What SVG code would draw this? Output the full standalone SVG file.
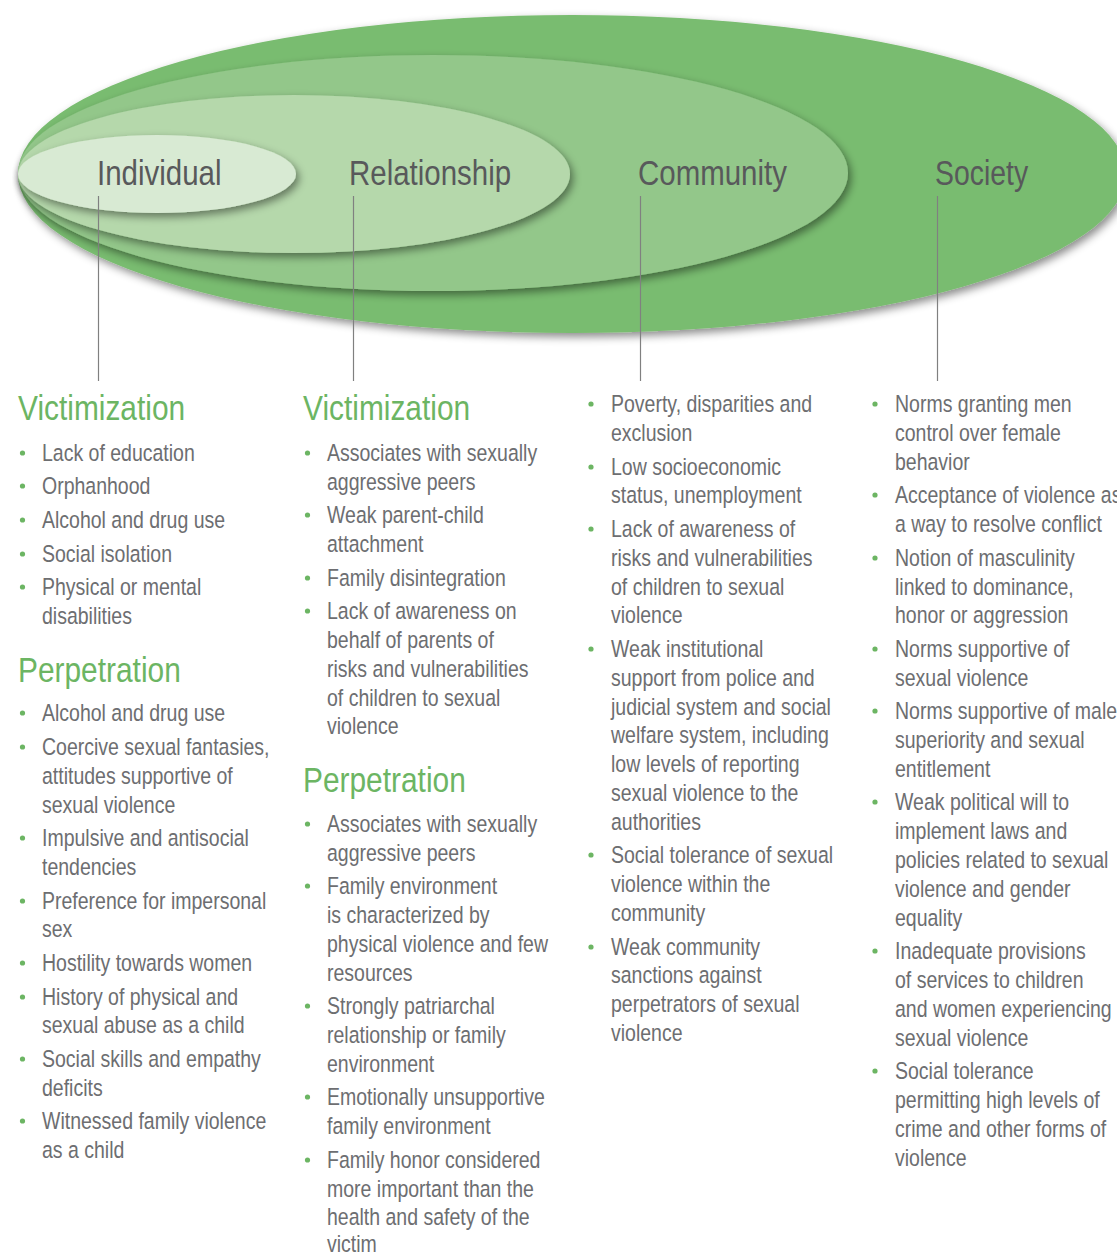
<svg xmlns="http://www.w3.org/2000/svg" width="1117" height="1255" viewBox="0 0 1117 1255">
<style>
.lbl{font-family:"Liberation Sans",Arial,sans-serif;font-size:35.5px;fill:#58595b}
.hd{font-family:"Liberation Sans",Arial,sans-serif;font-size:36px;fill:#6cb563}
.tx{font-family:"Liberation Sans",Arial,sans-serif;font-size:23.5px;fill:#6d6e71}
.bl{fill:#6cb563}
.ln{stroke:#808080;stroke-width:1.2;fill:none}
</style>
<defs>
<filter id="sh" x="-10%" y="-30%" width="120%" height="160%">
<feDropShadow dx="3" dy="4" stdDeviation="4" flood-color="#000" flood-opacity="0.45"/>
</filter>
</defs>
<rect width="1117" height="1255" fill="#fff"/>
<g id="society"><ellipse cx="572" cy="174" rx="554" ry="159" fill="#79bc6f" filter="url(#sh)"/></g>
<g id="community"><ellipse cx="433" cy="173" rx="415" ry="118" fill="#93c78a" filter="url(#sh)"/></g>
<g id="relationship"><ellipse cx="294" cy="174" rx="276" ry="79" fill="#b5d8ab" filter="url(#sh)"/></g>
<g id="individual"><ellipse cx="157" cy="174" rx="139" ry="39" fill="#d8ead3" filter="url(#sh)"/></g>
<g id="labels">
<g transform="translate(97 0) scale(0.83 1)"><text class="lbl" x="0" y="185">Individual</text></g>
<g transform="translate(349 0) scale(0.83 1)"><text class="lbl" x="0" y="185">Relationship</text></g>
<g transform="translate(638 0) scale(0.83 1)"><text class="lbl" x="0" y="185">Community</text></g>
<g transform="translate(935 0) scale(0.8 1)"><text class="lbl" x="0" y="185">Society</text></g>
</g>
<g id="connectors">
<line class="ln" x1="98.5" y1="196" x2="98.5" y2="381"/>
<line class="ln" x1="353.5" y1="196" x2="353.5" y2="381"/>
<line class="ln" x1="640.5" y1="196" x2="640.5" y2="381"/>
<line class="ln" x1="937.5" y1="196" x2="937.5" y2="381"/>
</g>
<g id="col-individual">
<g transform="translate(18 0) scale(0.83 1)">
<text class="hd" x="0" y="420">Victimization</text>
<text class="hd" x="0" y="682">Perpetration</text>
</g>
<g class="bl"><circle cx="22.5" cy="453" r="2.6"/><circle cx="22.5" cy="486" r="2.6"/><circle cx="22.5" cy="520" r="2.6"/><circle cx="22.5" cy="554" r="2.6"/><circle cx="22.5" cy="587" r="2.6"/>
<circle cx="22.5" cy="713" r="2.6"/><circle cx="22.5" cy="747" r="2.6"/><circle cx="22.5" cy="838" r="2.6"/><circle cx="22.5" cy="901" r="2.6"/><circle cx="22.5" cy="963" r="2.6"/><circle cx="22.5" cy="997" r="2.6"/><circle cx="22.5" cy="1059" r="2.6"/><circle cx="22.5" cy="1121" r="2.6"/></g>
<g transform="translate(42 0) scale(0.83 1)">
<text class="tx" x="0" y="461">Lack of education</text>
<text class="tx" x="0" y="494">Orphanhood</text>
<text class="tx" x="0" y="528">Alcohol and drug use</text>
<text class="tx" x="0" y="562">Social isolation</text>
<text class="tx" x="0" y="595">Physical or mental</text>
<text class="tx" x="0" y="624">disabilities</text>
<text class="tx" x="0" y="721">Alcohol and drug use</text>
<text class="tx" x="0" y="755">Coercive sexual fantasies,</text>
<text class="tx" x="0" y="784">attitudes supportive of</text>
<text class="tx" x="0" y="813">sexual violence</text>
<text class="tx" x="0" y="846">Impulsive and antisocial</text>
<text class="tx" x="0" y="875">tendencies</text>
<text class="tx" x="0" y="909">Preference for impersonal</text>
<text class="tx" x="0" y="937">sex</text>
<text class="tx" x="0" y="971">Hostility towards women</text>
<text class="tx" x="0" y="1005">History of physical and</text>
<text class="tx" x="0" y="1033">sexual abuse as a child</text>
<text class="tx" x="0" y="1067">Social skills and empathy</text>
<text class="tx" x="0" y="1096">deficits</text>
<text class="tx" x="0" y="1129">Witnessed family violence</text>
<text class="tx" x="0" y="1158">as a child</text>
</g>
</g>
<g id="col-relationship">
<g transform="translate(303 0) scale(0.83 1)">
<text class="hd" x="0" y="420">Victimization</text>
<text class="hd" x="0" y="792">Perpetration</text>
</g>
<g class="bl"><circle cx="307.5" cy="453" r="2.6"/><circle cx="307.5" cy="515" r="2.6"/><circle cx="307.5" cy="578" r="2.6"/><circle cx="307.5" cy="611" r="2.6"/>
<circle cx="307.5" cy="824" r="2.6"/><circle cx="307.5" cy="886" r="2.6"/><circle cx="307.5" cy="1006" r="2.6"/><circle cx="307.5" cy="1097" r="2.6"/><circle cx="307.5" cy="1160" r="2.6"/></g>
<g transform="translate(327 0) scale(0.83 1)">
<text class="tx" x="0" y="461">Associates with sexually</text>
<text class="tx" x="0" y="490">aggressive peers</text>
<text class="tx" x="0" y="523">Weak parent-child</text>
<text class="tx" x="0" y="552">attachment</text>
<text class="tx" x="0" y="586">Family disintegration</text>
<text class="tx" x="0" y="619">Lack of awareness on</text>
<text class="tx" x="0" y="648">behalf of parents of</text>
<text class="tx" x="0" y="677">risks and vulnerabilities</text>
<text class="tx" x="0" y="706">of children to sexual</text>
<text class="tx" x="0" y="734">violence</text>
<text class="tx" x="0" y="832">Associates with sexually</text>
<text class="tx" x="0" y="861">aggressive peers</text>
<text class="tx" x="0" y="894">Family environment</text>
<text class="tx" x="0" y="923">is characterized by</text>
<text class="tx" x="0" y="952">physical violence and few</text>
<text class="tx" x="0" y="981">resources</text>
<text class="tx" x="0" y="1014">Strongly patriarchal</text>
<text class="tx" x="0" y="1043">relationship or family</text>
<text class="tx" x="0" y="1072">environment</text>
<text class="tx" x="0" y="1105">Emotionally unsupportive</text>
<text class="tx" x="0" y="1134">family environment</text>
<text class="tx" x="0" y="1168">Family honor considered</text>
<text class="tx" x="0" y="1197">more important than the</text>
<text class="tx" x="0" y="1225">health and safety of the</text>
<text class="tx" x="0" y="1252">victim</text>
</g>
</g>
<g id="col-community">
<g class="bl"><circle cx="591" cy="404" r="2.6"/><circle cx="591" cy="467" r="2.6"/><circle cx="591" cy="529" r="2.6"/><circle cx="591" cy="649" r="2.6"/><circle cx="591" cy="855" r="2.6"/><circle cx="591" cy="947" r="2.6"/></g>
<g transform="translate(611 0) scale(0.83 1)">
<text class="tx" x="0" y="412">Poverty, disparities and</text>
<text class="tx" x="0" y="441">exclusion</text>
<text class="tx" x="0" y="475">Low socioeconomic</text>
<text class="tx" x="0" y="503">status, unemployment</text>
<text class="tx" x="0" y="537">Lack of awareness of</text>
<text class="tx" x="0" y="566">risks and vulnerabilities</text>
<text class="tx" x="0" y="595">of children to sexual</text>
<text class="tx" x="0" y="623">violence</text>
<text class="tx" x="0" y="657">Weak institutional</text>
<text class="tx" x="0" y="686">support from police and</text>
<text class="tx" x="0" y="715">judicial system and social</text>
<text class="tx" x="0" y="743">welfare system, including</text>
<text class="tx" x="0" y="772">low levels of reporting</text>
<text class="tx" x="0" y="801">sexual violence to the</text>
<text class="tx" x="0" y="830">authorities</text>
<text class="tx" x="0" y="863">Social tolerance of sexual</text>
<text class="tx" x="0" y="892">violence within the</text>
<text class="tx" x="0" y="921">community</text>
<text class="tx" x="0" y="955">Weak community</text>
<text class="tx" x="0" y="983">sanctions against</text>
<text class="tx" x="0" y="1012">perpetrators of sexual</text>
<text class="tx" x="0" y="1041">violence</text>
</g>
</g>
<g id="col-society">
<g class="bl"><circle cx="875" cy="404" r="2.6"/><circle cx="875" cy="495" r="2.6"/><circle cx="875" cy="558" r="2.6"/><circle cx="875" cy="649" r="2.6"/><circle cx="875" cy="711" r="2.6"/><circle cx="875" cy="802" r="2.6"/><circle cx="875" cy="951" r="2.6"/><circle cx="875" cy="1071" r="2.6"/></g>
<g transform="translate(895 0) scale(0.83 1)">
<text class="tx" x="0" y="412">Norms granting men</text>
<text class="tx" x="0" y="441">control over female</text>
<text class="tx" x="0" y="470">behavior</text>
<text class="tx" x="0" y="503">Acceptance of violence as</text>
<text class="tx" x="0" y="532">a way to resolve conflict</text>
<text class="tx" x="0" y="566">Notion of masculinity</text>
<text class="tx" x="0" y="595">linked to dominance,</text>
<text class="tx" x="0" y="623">honor or aggression</text>
<text class="tx" x="0" y="657">Norms supportive of</text>
<text class="tx" x="0" y="686">sexual violence</text>
<text class="tx" x="0" y="719">Norms supportive of male</text>
<text class="tx" x="0" y="748">superiority and sexual</text>
<text class="tx" x="0" y="777">entitlement</text>
<text class="tx" x="0" y="810">Weak political will to</text>
<text class="tx" x="0" y="839">implement laws and</text>
<text class="tx" x="0" y="868">policies related to sexual</text>
<text class="tx" x="0" y="897">violence and gender</text>
<text class="tx" x="0" y="926">equality</text>
<text class="tx" x="0" y="959">Inadequate provisions</text>
<text class="tx" x="0" y="988">of services to children</text>
<text class="tx" x="0" y="1017">and women experiencing</text>
<text class="tx" x="0" y="1046">sexual violence</text>
<text class="tx" x="0" y="1079">Social tolerance</text>
<text class="tx" x="0" y="1108">permitting high levels of</text>
<text class="tx" x="0" y="1137">crime and other forms of</text>
<text class="tx" x="0" y="1166">violence</text>
</g>
</g>
</svg>
